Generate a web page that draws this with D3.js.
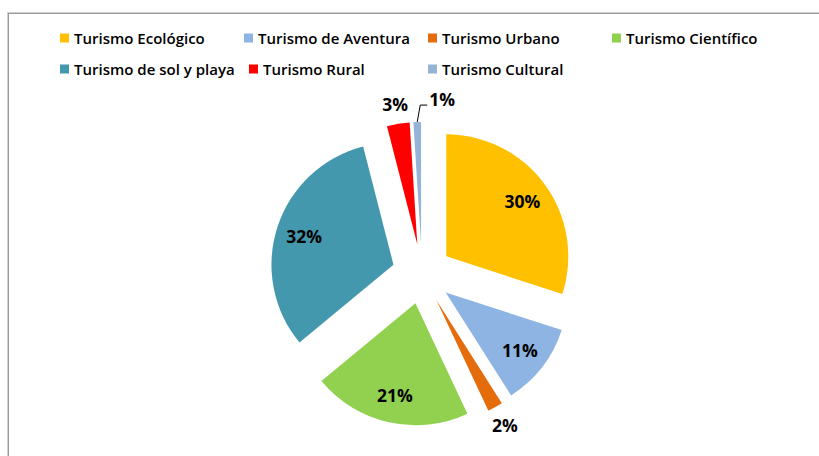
<!DOCTYPE html>
<html>
<head>
<meta charset="utf-8">
<script src="https://cdn.jsdelivr.net/npm/d3@7"></script>
<style>
  body { margin: 0; background: #fff; }
  svg { display: block; }
</style>
</head>
<body>
<script>
"use strict";
(function(){
    // data
    const categories = ["Turismo Ecológico", "Turismo de Aventura", "Turismo Urbano", "Turismo Científico",
                        "Turismo de sol y playa", "Turismo Rural", "Turismo Cultural"];
    const shares = [30, 11, 2, 21, 32, 3, 1];
    const sliceColors = ["#FFC000", "#8DB4E2", "#E46C0A", "#92D050", "#4398AE", "#FF0000", "#95B3D7"];

    const width = 819, height = 456;
    const cx = 422, cy = 274;
    const radius = 122, explode = 30;

    const svg = d3.select("body").append("svg")
        .attr("width", width)
        .attr("height", height);

    // chart area border (runs off the bottom/right like the source)
    svg.append("rect")
        .attr("x", 7.5).attr("y", 12.5)
        .attr("width", width).attr("height", height)
        .attr("fill", "none").attr("stroke", "#d0d0d0").attr("stroke-width", 1);
    svg.append("rect")
        .attr("x", 8.5).attr("y", 13.5)
        .attr("width", width).attr("height", height)
        .attr("fill", "none").attr("stroke", "#9a9a9a").attr("stroke-width", 1);

    const data = categories.map((c, i) => ({ name: c, value: shares[i], color: sliceColors[i] }));

    const pie = d3.pie().sort(null).value(d => d.value);
    const arcs = pie(data);
    const arc = d3.arc().innerRadius(0).outerRadius(radius);

    // direction of a slice's bisector, 0 = 12 o'clock, clockwise
    function dir(a) {
        const m = (a.startAngle + a.endAngle) / 2;
        return [Math.sin(m), -Math.cos(m)];
    }

    function overlaps(a, b) {
        return a.x < b.x + b.width && b.x < a.x + a.width &&
               a.y < b.y + b.height && b.y < a.y + a.height;
    }

    const g = svg.append("g").attr("transform", `translate(${cx},${cy})`);

    g.selectAll(".slice")
        .data(arcs)
        .enter()
        .append("path")
            .attr("class", "slice")
            .attr("d", arc)
            .attr("fill", d => d.data.color)
            .attr("transform", d => {
                const v = dir(d);
                return `translate(${v[0] * explode},${v[1] * explode})`;
            });

    // labels: big slices inside, small ones outside
    const labelFont = "'Open Sans', 'DejaVu Sans', sans-serif";
    let prevBox = null;
    arcs.forEach(d => {
        const v = dir(d);
        const inside = d.data.value >= 5;
        const dist = inside ? 124 : 172;
        let x = v[0] * dist, y = v[1] * dist;
        const t = g.append("text")
            .attr("font-family", labelFont)
            .attr("font-weight", 700)
            .attr("font-size", 17.5)
            .attr("fill", "#000")
            .attr("text-anchor", "middle")
            .attr("dominant-baseline", "central")
            .attr("x", x).attr("y", y)
            .text(d.data.value + "%");
        if (!inside) {
            const bb = t.node().getBBox();
            if (prevBox && overlaps(bb, prevBox)) {
                // push it to the right of the neighbour and draw a leader line
                const edge = [v[0] * (explode + radius), v[1] * (explode + radius)];
                const lx = prevBox.x + prevBox.width + 21;
                const ly = y - 3;
                t.attr("text-anchor", "start").attr("x", lx).attr("y", ly);
                g.append("polyline")
                    .attr("points", [edge, [edge[0] + 3, ly + 6], [lx - 2, ly + 6]].map(p => p.join(",")).join(" "))
                    .attr("fill", "none").attr("stroke", "#000").attr("stroke-width", 1);
            }
            prevBox = t.node().getBBox();
        }
    });

    // legend, two rows of four columns
    const legendX = [60, 244, 428, 612];
    const legendRowY = [38, 69];
    const legend = svg.selectAll(".legend")
        .data(data)
        .enter()
        .append("g")
            .attr("class", "legend")
            .attr("transform", (d, i) => {
                let x = legendX[i % 4];
                if (i === 5) x = 249;
                return `translate(${x},${legendRowY[Math.floor(i / 4)]})`;
            });
    legend.append("rect")
        .attr("x", 0).attr("y", -4.5)
        .attr("width", 9).attr("height", 9)
        .attr("fill", d => d.color);
    legend.append("text")
        .attr("x", 14)
        .attr("y", 0)
        .attr("dominant-baseline", "central")
        .attr("font-family", labelFont)
        .attr("font-weight", 600)
        .attr("font-size", 15)
        .attr("fill", "#000")
        .text(d => d.name);
})()
</script>
</body>
</html>
